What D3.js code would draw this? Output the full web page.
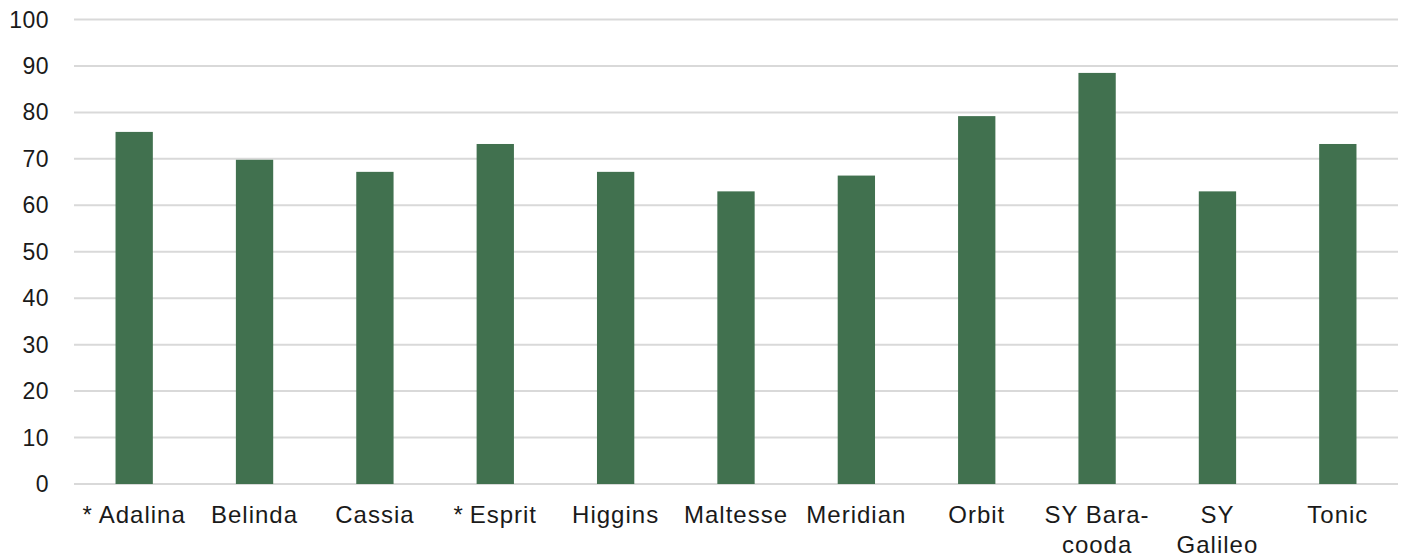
<!DOCTYPE html>
<html>
<head>
<meta charset="utf-8">
<script src="https://cdn.jsdelivr.net/npm/d3@7"></script>
<style>
  body { margin: 0; background: #fff; }
  text { font-family: "Liberation Sans", Arial, sans-serif; fill: #1a1a1a; }
</style>
</head>
<body>
<div id="chart"></div>
<script>
const categories = ["*Adalina", "Belinda", "Cassia", "*Esprit", "Higgins", "Maltesse",
    "Meridian", "Orbit", "SY Bara-\ncooda", "SY\nGalileo", "Tonic"];
const values = [75.8, 69.8, 67.2, 73.2, 67.2, 63.0, 66.4, 79.2, 88.5, 63.0, 73.2];
const yTicks = [0, 10, 20, 30, 40, 50, 60, 70, 80, 90, 100];

const totalWidth = 1405;
const totalHeight = 560;
const margin = { top: 19.5, right: 7, bottom: 76, left: 74 };
const width = totalWidth - margin.left - margin.right;
const height = totalHeight - margin.top - margin.bottom;

const svg = d3.select("#chart")
    .append("svg")
    .attr("width", totalWidth)
    .attr("height", totalHeight)
    .append("g")
    .attr("transform", `translate(${margin.left},${margin.top})`);

const xScale = d3.scaleBand()
    .domain(categories)
    .range([0, width])
    .paddingInner(0.69)
    .paddingOuter(0.345);

const yScale = d3.scaleLinear()
    .domain([0, 100])
    .range([height, 0]);

// gridlines
svg.selectAll(".grid")
    .data(yTicks)
    .enter()
    .append("line")
    .attr("x1", 0)
    .attr("x2", width)
    .attr("y1", (d) => yScale(d))
    .attr("y2", (d) => yScale(d))
    .attr("stroke", "#d9d9d9")
    .attr("stroke-width", 2);

// y labels
svg.selectAll(".ylab")
    .data(yTicks)
    .enter()
    .append("text")
    .attr("x", -25)
    .attr("y", (d) => yScale(d))
    .attr("dy", "0.35em")
    .style("text-anchor", "end")
    .style("font-size", "23px")
    .style("letter-spacing", "0.5px")
    .text((d) => d);

// bars
svg.selectAll(".bar")
    .data(values)
    .enter()
    .append("rect")
    .attr("x", (d, i) => xScale(categories[i]))
    .attr("width", xScale.bandwidth())
    .attr("y", (d) => yScale(d))
    .attr("height", (d) => height - yScale(d))
    .attr("fill", "#41714f");

// x labels
const xLabels = svg.selectAll(".xlab")
    .data(categories)
    .enter()
    .append("text")
    .attr("x", (d) => xScale(d) + xScale.bandwidth() / 2)
    .attr("y", height + 39)
    .style("text-anchor", "middle")
    .style("font-size", "24px")
    .style("letter-spacing", "1px");

xLabels.each(function (d) {
    const lines = d.split("\n");
    lines.forEach((line, i) => {
        d3.select(this).append("tspan")
            .attr("x", xScale(d) + xScale.bandwidth() / 2)
            .attr("dy", i === 0 ? 0 : 30)
            .text(line.replace("*", "*\u2009"));
    });
});
</script>
</body>
</html>
